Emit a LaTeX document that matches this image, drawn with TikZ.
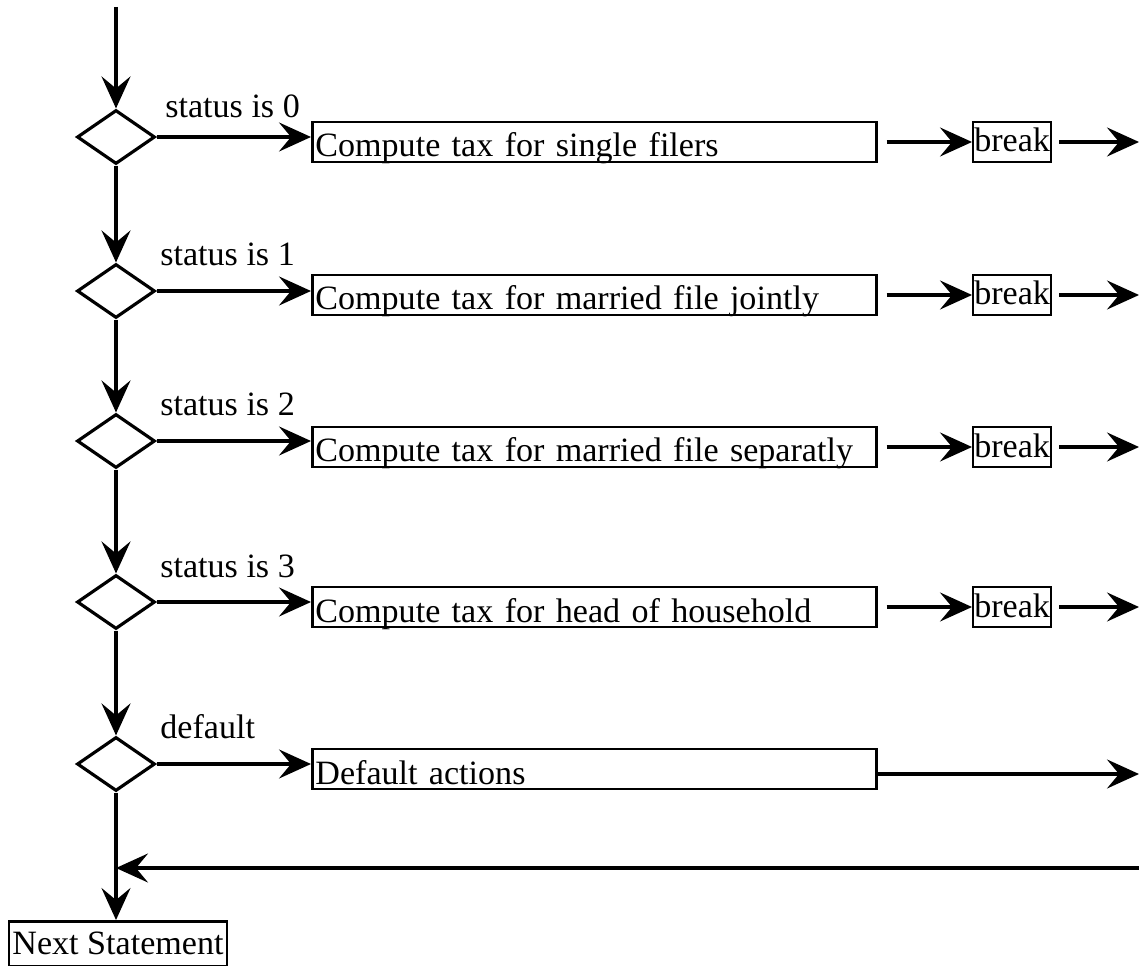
\documentclass[tikz,border=0pt]{standalone}
\usepackage{fontspec}
\setmainfont{Liberation Serif}
\usetikzlibrary{arrows.meta,shapes.geometric}
\begin{document}
\begin{tikzpicture}[x=0.02cm,y=-0.02cm,
  every node/.style={font=\fontsize{19.4}{23}\selectfont},
  ln/.style={line width=1.8pt},
  arr/.style={ln,-{Stealth[length=0.64cm,width=0.58cm,inset=0.24cm]}},
  dec/.style={draw,diamond,line width=1.8pt,minimum width=1.56cm,minimum height=1.08cm,inner sep=0pt},
  actbox/.style={draw,line width=1.6pt,anchor=west,inner xsep=0.06cm,inner ysep=0pt,
     text width=11.16cm,align=left,text height=0.7cm,text depth=0.1cm},
  brk/.style={draw,line width=1.3pt,anchor=west,inner sep=0pt,minimum width=1.56cm,
     text height=0.6cm,text depth=0.2cm},
  lbl/.style={anchor=base west,inner sep=0pt}]
\useasboundingbox (0,0) rectangle (1139,966);
% decisions
\node[dec] (d1) at (116,137) {};
\node[dec] (d2) at (116,291) {};
\node[dec] (d3) at (116,441) {};
\node[dec] (d4) at (116,602) {};
\node[dec] (d5) at (116,764) {};
% labels
\node[lbl] (l1) at (165,118) {status is 0};
\node[lbl] (l2) at (160,265) {status is 1};
\node[lbl] (l3) at (160,415) {status is 2};
\node[lbl] (l4) at (160,577) {status is 3};
\node[lbl] (l5) at (160,738) {default};
% action boxes
\node[actbox] (c1) at (311,142) {Compute tax for single filers};
\node[actbox] (c2) at (311,295) {Compute tax for married file jointly};
\node[actbox] (c3) at (311,447) {Compute tax for married file separatly};
\node[actbox] (c4) at (311,607) {Compute tax for head of household};
\node[actbox] (c5) at (311,769) {Default actions};
% breaks
\node[brk] (b1) at (972,142) {break};
\node[brk] (b2) at (972,295) {break};
\node[brk] (b3) at (972,447) {break};
\node[brk] (b4) at (972,607) {break};
% next statement
\node[draw,line width=1.6pt,anchor=north,inner sep=0pt,minimum width=4.36cm,
  text height=0.66cm,text depth=0.24cm] (n) at (118,920) {Next Statement};
% free ends
\coordinate (top) at (116,7);
\coordinate (e1) at (1139,142);
\coordinate (e2) at (1139,295);
\coordinate (e3) at (1139,447);
\coordinate (e4) at (1139,607);
\coordinate (e5) at (1139,774);
\coordinate (r) at (1139,868);
\coordinate (j) at (116,868);
% vertical flow
\draw[arr] (top) -- (d1.north);
\draw[arr] (d1.south) -- (d2.north);
\draw[arr] (d2.south) -- (d3.north);
\draw[arr] (d3.south) -- (d4.north);
\draw[arr] (d4.south) -- (d5.north);
\draw[arr] (d5.south) -- (d5.south |- n.north);
% decisions to boxes
\foreach \i in {1,...,5}{
  \draw[arr] (d\i.east) -- (d\i.east -| c\i.west);
}
% boxes to breaks and out
\foreach \i in {1,...,4}{
  \draw[arr,shorten <=0.18cm] (c\i.east) -- (b\i.west);
  \draw[arr,shorten <=0.14cm] (b\i.east) -- (e\i);
}
\draw[arr] (c5.east |- e5) -- (e5);
\draw[arr] (r) -- (j);
\end{tikzpicture}
\end{document}
